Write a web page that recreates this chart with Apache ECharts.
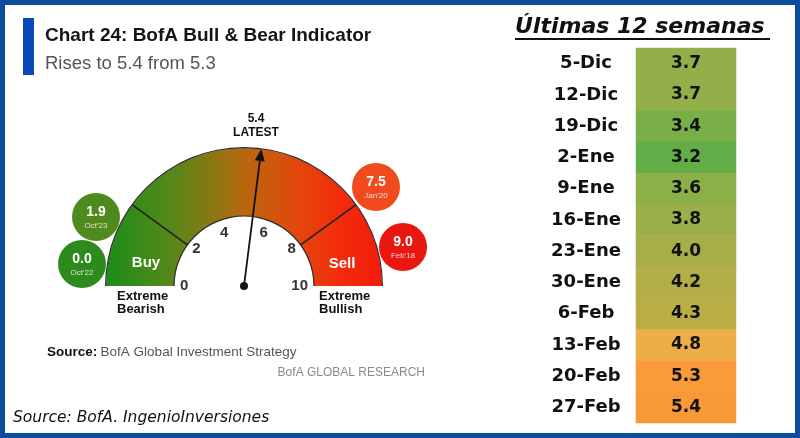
<!DOCTYPE html>
<html><head><meta charset="utf-8">
<script src="https://cdn.jsdelivr.net/npm/echarts@6/dist/echarts.min.js"></script>
<style>html,body{margin:0;padding:0;background:#fff}#c{width:800px;height:438px}</style>
</head><body><div id="c"></div>
<script>
// ---- data ----
const weeks = ['5-Dic','12-Dic','19-Dic','2-Ene','9-Ene','16-Ene','23-Ene','30-Ene','6-Feb','13-Feb','20-Feb','27-Feb'];
const weekValues = [3.7,3.7,3.4,3.2,3.6,3.8,4.0,4.2,4.3,4.8,5.3,5.4];
const latestValue = 5.4;
const gaugeTicks = [0,2,4,6,8,10];
const bubbleValues = [1.9, 0.0, 7.5, 9.0];
const bubbleDates = ["Oct'23", "Oct'22", "Jan'20", "Feb'18"];

// ---- layout / style ----
const NARROW = "'Liberation Sans Narrow','Liberation Sans',Arial,sans-serif";
const GC = [244, 286], GR = 138, BAND = 68;
const bubbleLayout = [[96,217],[82,264],[376,187],[403,247]];
const bubbleColors = ['#4f8a1f','#2d8a1c','#f04a1e','#e8170f'];

const chart = echarts.init(document.getElementById('c'));
const grad = new echarts.graphic.LinearGradient(0,0,1,0,[
  {offset:0,color:'#1c8c1a'},{offset:0.2,color:'#4c8a1a'},{offset:0.35,color:'#7c7c14'},
  {offset:0.5,color:'#b8680e'},{offset:0.7,color:'#e4460c'},{offset:0.85,color:'#f22c0c'},{offset:1,color:'#f41a0a'}]);

const hidden = {axisTick:{show:false},axisLabel:{show:false},pointer:{show:false},anchor:{show:false},title:{show:false},detail:{show:false}};

const graphics = [
  {type:'rect', shape:{x:2.5,y:2.5,width:795,height:433}, style:{fill:'none',stroke:'#0b4c9c',lineWidth:5}, z:100},
  {type:'rect', shape:{x:23,y:18,width:11,height:57}, style:{fill:'#0a47b8'}},
  {type:'text', style:{x:45,y:36,text:'Chart 24: BofA Bull & Bear Indicator',font:"bold 19px "+NARROW,fill:'#151515',textVerticalAlign:'middle'}},
  {type:'text', style:{x:45,y:64,text:'Rises to 5.4 from 5.3',font:"18.5px "+NARROW,fill:'#555',textVerticalAlign:'middle'}},
  {type:'text', z:50, style:{x:146,y:263,text:'Buy',font:"bold 15px "+NARROW,fill:'#fff',textAlign:'center',textVerticalAlign:'middle'}},
  {type:'text', z:50, style:{x:342,y:264,text:'Sell',font:"bold 15px "+NARROW,fill:'#fff',textAlign:'center',textVerticalAlign:'middle'}},
  {type:'text', style:{x:117,y:303,text:'Extreme\nBearish',font:"bold 13px "+NARROW,lineHeight:13,fill:'#111',textVerticalAlign:'middle'}},
  {type:'text', style:{x:319,y:303,text:'Extreme\nBullish',font:"bold 13px "+NARROW,lineHeight:13,fill:'#111',textVerticalAlign:'middle'}},
  {type:'text', style:{x:47,y:352,text:'{b|Source:} {n|BofA Global Investment Strategy}',rich:{b:{font:"bold 13.5px "+NARROW,fill:'#111'},n:{font:"13.5px "+NARROW,fill:'#555'}},textVerticalAlign:'middle'}},
  {type:'text', style:{x:425,y:373,text:'BofA GLOBAL RESEARCH',font:"12px "+NARROW,fill:'#8a8a8a',textAlign:'right',textVerticalAlign:'middle'}},
  {type:'text', style:{x:13,y:418,text:'Source: BofA. IngenioInversiones',font:"italic 15.5px 'DejaVu Sans',sans-serif",fill:'#111',textVerticalAlign:'middle'}},
  {type:'text', style:{x:515,y:27,text:'Últimas 12 semanas',font:"italic bold 22px 'DejaVu Sans',sans-serif",fill:'#111',textVerticalAlign:'middle'}},
  {type:'line', shape:{x1:515,y1:39,x2:770,y2:39}, style:{stroke:'#111',lineWidth:2}}
];
bubbleValues.forEach((v,i)=>{
  const [x,y] = bubbleLayout[i];
  graphics.push({type:'circle', shape:{cx:x,cy:y,r:24}, style:{fill:bubbleColors[i]}});
  graphics.push({type:'text', style:{x:x,y:y-5,text:v.toFixed(1),font:"bold 14px "+NARROW,fill:'#fff',textAlign:'center',textVerticalAlign:'middle'}});
  graphics.push({type:'text', style:{x:x,y:y+9,text:bubbleDates[i],font:"8px "+NARROW,fill:'rgba(255,255,255,0.8)',textAlign:'center',textVerticalAlign:'middle'}});
});

chart.setOption({
  animation:false,
  backgroundColor:'#fff',
  grid:{left:636,top:48,width:100,height:375},
  xAxis:{type:'category',data:['v'],show:false},
  yAxis:{type:'category',data:weeks,inverse:true,axisLine:{show:false},axisTick:{show:false},splitLine:{show:false},
    axisLabel:{margin:50,align:'center',fontFamily:'DejaVu Sans',fontWeight:'bold',fontSize:18,color:'#111'}},
  visualMap:{show:false,type:'continuous',min:3.2,max:5.4,dimension:2,seriesIndex:0,
    inRange:{color:['#62ad48','#7aaf47','#8daf48','#9aaf49','#a6af47','#b3ae46','#bfae45','#d8ae46','#ecaf47','#f3a63f','#f79d39','#f89937']}},
  series:[
    {type:'heatmap',data:weekValues.map((v,i)=>[0,i,v]),
      label:{show:true,formatter:p=>p.value[2].toFixed(1),fontFamily:'DejaVu Sans',fontWeight:'bold',fontSize:17,color:'#111'},
      itemStyle:{borderWidth:0}},
    {type:'gauge',center:GC,radius:GR,startAngle:180,endAngle:0,min:0,max:10,splitNumber:5,
      axisLine:{lineStyle:{width:BAND,color:[[1,grad]]}},
      axisTick:{show:false},splitLine:{show:false,length:0,distance:0},
      axisLabel:{distance:BAND+6,color:'#333',fontSize:15,fontWeight:'bold',fontFamily:NARROW,
        formatter:v=>gaugeTicks.includes(Math.round(v))?String(Math.round(v)):''},
      pointer:{icon:'path://M5,0 L10,12 L5.9,12 L5.9,140 L4.1,140 L4.1,12 L0,12 Z',length:'100%',width:10,offsetCenter:[0,0],itemStyle:{color:'#111'}},
      anchor:{show:true,showAbove:true,size:8,itemStyle:{color:'#111'}},
      title:{show:false},
      detail:{offsetCenter:[12,-160],formatter:v=>'{a|'+v.toFixed(1)+'}\n{b|LATEST}',
        rich:{a:{fontSize:12,fontWeight:'bold',fontFamily:NARROW,color:'#111',lineHeight:14},
              b:{fontSize:12,fontWeight:'bold',fontFamily:NARROW,color:'#111',lineHeight:14}}},
      data:[{value:latestValue}]},
    Object.assign({type:'gauge',center:GC,radius:GR,startAngle:144,endAngle:36,min:2,max:8,splitNumber:1,
      axisLine:{show:false,lineStyle:{width:BAND}},
      splitLine:{show:true,length:BAND,distance:-BAND,lineStyle:{color:'#222',width:1.6}},data:[]},hidden),
    Object.assign({type:'gauge',center:GC,radius:GR+1,startAngle:180,endAngle:0,
      axisLine:{lineStyle:{width:1.2,color:[[1,'#2a2a2a']]}},splitLine:{show:false},data:[]},hidden),
    Object.assign({type:'gauge',center:GC,radius:GR-BAND+0.6,startAngle:180,endAngle:0,
      axisLine:{lineStyle:{width:1.2,color:[[1,'#2a2a2a']]}},splitLine:{show:false},data:[]},hidden)
  ],
  graphic:graphics
});
</script></body></html>
